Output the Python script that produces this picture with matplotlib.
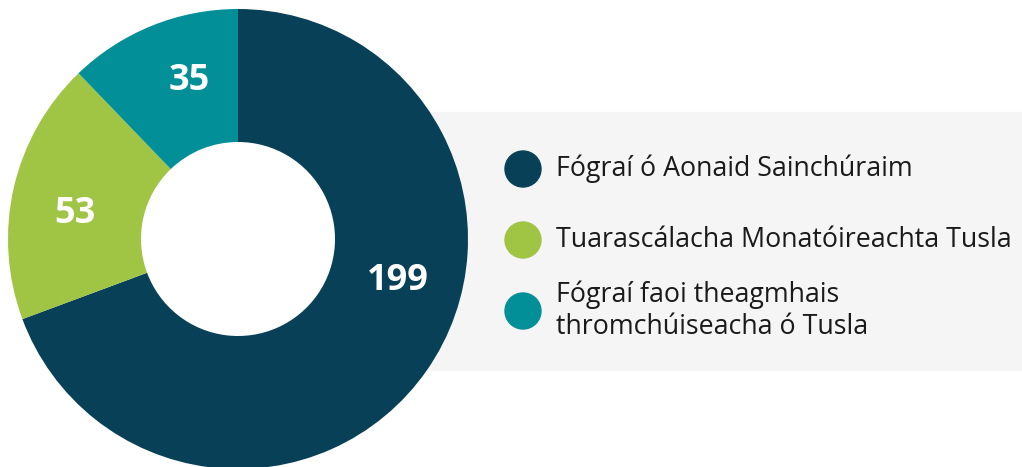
import numpy as np
import matplotlib
matplotlib.use("Agg")
import matplotlib.pyplot as plt
from matplotlib.patches import Rectangle, Circle

# data
VALUES = [199, 53, 35]
LABELS = ["Fógraí ó Aonaid Sainchúraim",
          "Tuarascálacha Monatóireachta Tusla",
          "Fógraí faoi theagmhais\nthromchúiseacha ó Tusla"]
COLORS = ["#084157", "#a0c444", "#038f97"]

plt.rcParams["font.family"] = ["Open Sans", "DejaVu Sans"]

W, H = 1022, 467
fig = plt.figure(figsize=(W/100, H/100), dpi=100)
ax = fig.add_axes([0, 0, 1, 1])

# grey legend panel (sits behind the donut)
ax.add_patch(Rectangle((300, H-370), W-300, 258, color="#f5f5f5", zorder=0))

cx, cy, R, r = 238, H-239, 230, 97
wedges, _ = ax.pie(VALUES, colors=COLORS, startangle=90, counterclock=False,
                   radius=R, center=(cx, cy), frame=True,
                   wedgeprops=dict(width=R-r, linewidth=0))
for w in wedges: w.set_zorder(2)
ax.add_patch(Circle((cx, cy), r+1, color="white", zorder=1))
ax.set_xlim(0, W); ax.set_ylim(0, H); ax.set_aspect("auto")
ax.axis("off")

# value labels inside the ring
shift = [20, 4, -5]   # nudge along the ring, degrees
for w, v, s in zip(wedges, VALUES, shift):
    ang = np.deg2rad((w.theta1 + w.theta2)/2 + s)
    rr = (R + r)/2 + 2
    ax.text(cx + rr*np.cos(ang), cy + rr*np.sin(ang), str(v), color="white",
            fontsize=26, fontweight="bold", ha="center", va="center", zorder=3)

# legend
ys = [169, 240, 311]
for y, lab, col in zip(ys, LABELS, COLORS):
    ax.add_patch(Circle((523, H-y), 18, color=col, zorder=3))
    ax.text(556, H-y, lab, fontsize=19.3, color="#1a1a1a", ha="left", va="center",
            linespacing=1.2, zorder=3)

fig.savefig("out.png", dpi=100)
